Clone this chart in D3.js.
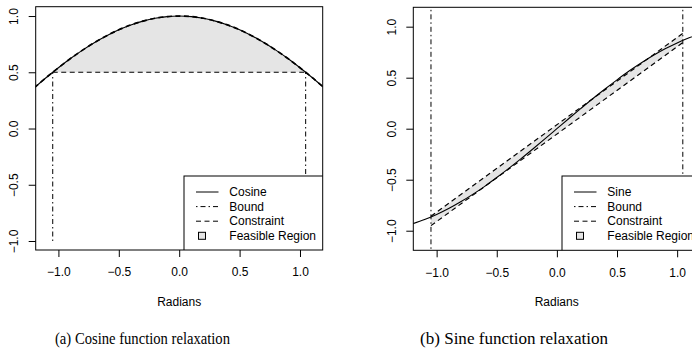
<!DOCTYPE html>
<html>
<head>
<meta charset="utf-8">
<script src="https://cdn.jsdelivr.net/npm/d3@7"></script>
<style>
  html, body { margin: 0; padding: 0; background: #fff; }
  svg { display: block; }
  text { font-family: "Liberation Sans", Arial, sans-serif; }
  text.caption { font-family: "Liberation Serif", "DejaVu Serif", serif; }
</style>
</head>
<body>
<svg id="chart" width="692" height="360"></svg>
<script>
// ---------- data ----------
const radians = [-1.2,-1.1,-1.0,-0.9,-0.8,-0.7,-0.6,-0.5,-0.4,-0.3,-0.2,-0.1,0,0.1,0.2,0.3,0.4,0.5,0.6,0.7,0.8,0.9,1.0,1.1,1.2];
const cosineValues = [0.362,0.454,0.540,0.622,0.697,0.765,0.825,0.878,0.921,0.955,0.980,0.995,1.000,0.995,0.980,0.955,0.921,0.878,0.825,0.765,0.697,0.622,0.540,0.454,0.362];
const sineValues = [-0.932,-0.891,-0.841,-0.783,-0.717,-0.644,-0.565,-0.479,-0.389,-0.296,-0.199,-0.100,0,0.100,0.199,0.296,0.389,0.479,0.565,0.644,0.717,0.783,0.841,0.891,0.932];
const boundX = [-1.047, 1.047];
const cosBoundYRange = [-1.0, 0.5];
const cosConstraintY = 0.5;
const sinBoundYRange = [-1.3, 1.3];
const sinUpperConstraint = [-0.858, 0.935];  // y at boundX
const sinLowerConstraint = [-0.950, 0.845];  // y at boundX
const tickValues = [-1.0,-0.5,0.0,0.5,1.0];
const xLabel = "Radians";
const legendCos = ["Cosine","Bound","Constraint","Feasible Region"];
const legendSin = ["Sine","Bound","Constraint","Feasible Region"];
const captions = ["(a) Cosine function relaxation", "(b) Sine function relaxation"];

// ---------- drawing ----------
const svg = d3.select("#chart");
const fillGray = "#e5e5e5";
const dashPat = "5,3.5";
const dotDashPat = "1.5,3,5,3";

function panel(cfg) {
  const x = d3.scaleLinear().domain(cfg.xd).range([cfg.left, cfg.right]);
  const y = d3.scaleLinear().domain(cfg.yd).range([cfg.bottom, cfg.top]);
  const g = svg.append("g");
  const clipId = "clip" + cfg.id;
  svg.append("clipPath").attr("id", clipId).append("rect")
    .attr("x", cfg.left).attr("y", cfg.top)
    .attr("width", cfg.right - cfg.left).attr("height", cfg.bottom - cfg.top);
  const pg = g.append("g").attr("clip-path", `url(#${clipId})`);
  const line = d3.line().x(d => x(d[0])).y(d => y(d[1])).curve(d3.curveCatmullRom);
  const lin = d3.line().x(d => x(d[0])).y(d => y(d[1]));
  cfg.draw(pg, x, y, line, lin);

  // legend
  const lg = g.append("g").attr("clip-path", `url(#${clipId})`);
  const lx = cfg.legendLeft, ly = cfg.legendTop;
  lg.append("rect").attr("x", lx).attr("y", ly)
    .attr("width", cfg.right - lx + 10).attr("height", cfg.bottom - ly + 10)
    .attr("fill", "#fff").attr("stroke", "#000").attr("stroke-width", 1);
  const rows = [0,1,2,3].map(i => ly + 16 + i * 14.6);
  const styles = [null, dotDashPat, dashPat];
  cfg.legend.forEach((t, i) => {
    if (i < 3) {
      lg.append("line").attr("x1", lx + 12).attr("x2", lx + 34.5)
        .attr("y1", rows[i]).attr("y2", rows[i])
        .attr("stroke", "#000").attr("stroke-width", 1)
        .attr("stroke-dasharray", styles[i]);
    } else {
      lg.append("rect").attr("x", lx + 14.5).attr("y", rows[i] - 3.5)
        .attr("width", 7).attr("height", 7)
        .attr("fill", fillGray).attr("stroke", "#000").attr("stroke-width", 1);
    }
    g.append("text").attr("x", lx + 45.3).attr("y", rows[i]).attr("dy", "0.35em")
      .attr("font-size", 12).text(t);
  });

  // box
  g.append("rect").attr("x", cfg.left).attr("y", cfg.top)
    .attr("width", cfg.right - cfg.left).attr("height", cfg.bottom - cfg.top)
    .attr("fill", "none").attr("stroke", "#000").attr("stroke-width", 1);

  // axes
  const fmt = d3.format(".1f");
  const ax = g.append("g").attr("transform", `translate(0,${cfg.bottom})`)
    .call(d3.axisBottom(x).tickValues(tickValues).tickFormat(fmt).tickSize(7).tickSizeOuter(0).tickPadding(10.7));
  ax.select(".domain").remove();
  ax.selectAll("text").attr("font-size", 12).attr("fill", "#000");
  const ay = g.append("g").attr("transform", `translate(${cfg.left},0)`)
    .call(d3.axisLeft(y).tickValues(tickValues).tickFormat(fmt).tickSize(7).tickSizeOuter(0));
  ay.select(".domain").remove();
  ay.selectAll("text").attr("font-size", 12).attr("fill", "#000")
    .attr("transform", "rotate(-90)").attr("x", 0).attr("y", -21.7).attr("dy", "0.35em")
    .attr("text-anchor", "middle");

  g.append("text").attr("x", (cfg.left + cfg.right) / 2).attr("y", 305.5)
    .attr("text-anchor", "middle").attr("font-size", 12).text(xLabel);

  g.append("text").attr("class", "caption").attr("x", cfg.capX).attr("y", 344)
    .attr("font-size", 17).attr("textLength", cfg.capW).attr("lengthAdjust", "spacingAndGlyphs")
    .text(cfg.caption);
}

const cosPts = radians.map((r, i) => [r, cosineValues[i]]);
const sinPts = radians.map((r, i) => [r, sineValues[i]]);

panel({
  id: "a", left: 35.7, right: 322.7, top: 6.7, bottom: 250,
  xd: [-1.188, 1.188], yd: [-1.08, 1.083],
  legendLeft: 184, legendTop: 176, legend: legendCos,
  caption: captions[0], capX: 55, capW: 175,
  draw: (pg, x, y, line, lin) => {
    const inside = cosPts.filter(p => p[0] > boundX[0] && p[0] < boundX[1]);
    const region = [[boundX[0], cosConstraintY], ...inside, [boundX[1], cosConstraintY]];
    pg.append("path").datum(region)
      .attr("d", d3.area().x(d => x(d[0])).y0(y(cosConstraintY)).y1(d => y(d[1])).curve(d3.curveCatmullRom))
      .attr("fill", fillGray).attr("stroke", "none");
    pg.append("path").datum(cosPts).attr("d", line).attr("fill", "none")
      .attr("stroke", "#000").attr("stroke-width", 1.1);
    pg.append("path").datum(cosPts).attr("d", line).attr("fill", "none")
      .attr("stroke", "#000").attr("stroke-width", 1.7).attr("stroke-dasharray", dashPat);
    pg.append("path").datum([[boundX[0], cosConstraintY], [boundX[1], cosConstraintY]]).attr("d", lin)
      .attr("fill", "none").attr("stroke", "#000").attr("stroke-width", 1.1).attr("stroke-dasharray", dashPat);
    boundX.forEach(b => {
      pg.append("path").datum([[b, cosBoundYRange[0]], [b, cosBoundYRange[1]]]).attr("d", lin)
        .attr("fill", "none").attr("stroke", "#000").attr("stroke-width", 1).attr("stroke-dasharray", dotDashPat);
    });
  }
});

panel({
  id: "b", left: 413.3, right: 700, top: 7.3, bottom: 250.3,
  xd: [-1.194, 1.19], yd: [-1.192, 1.19],
  legendLeft: 562, legendTop: 176, legend: legendSin,
  caption: captions[1], capX: 420, capW: 188,
  draw: (pg, x, y, line, lin) => {
    const up = boundX.map((b, i) => [b, sinUpperConstraint[i]]);
    const lo = boundX.map((b, i) => [b, sinLowerConstraint[i]]);
    pg.append("path").datum([...up, ...lo.slice().reverse()])
      .attr("d", d3.line().x(d => x(d[0])).y(d => y(d[1])).curve(d3.curveLinearClosed))
      .attr("fill", fillGray).attr("stroke", "none");
    pg.append("path").datum(sinPts).attr("d", line).attr("fill", "none")
      .attr("stroke", "#000").attr("stroke-width", 1.1);
    [up, lo].forEach(d => {
      pg.append("path").datum(d).attr("d", lin).attr("fill", "none")
        .attr("stroke", "#000").attr("stroke-width", 1.2).attr("stroke-dasharray", dashPat);
    });
    boundX.forEach(b => {
      pg.append("path").datum([[b, sinBoundYRange[0]], [b, sinBoundYRange[1]]]).attr("d", lin)
        .attr("fill", "none").attr("stroke", "#000").attr("stroke-width", 1).attr("stroke-dasharray", dotDashPat);
    });
  }
});
</script>
</body>
</html>
